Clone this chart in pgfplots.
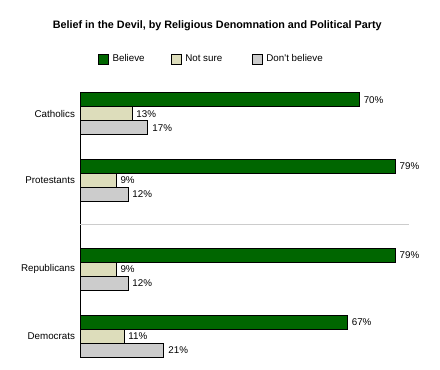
\documentclass[border=0pt]{standalone}
\usepackage{pgfplots}
\pgfplotsset{compat=1.18}
\usepackage{fontspec}
\setmainfont{Liberation Sans}
\newfontfamily\plainlib{Liberation Sans}
\definecolor{cgreen}{HTML}{006600}
\definecolor{cbeige}{HTML}{DDDDBB}
\definecolor{cgray}{HTML}{CCCCCC}
\begin{document}
\begin{tikzpicture}[x=1pt,y=1pt]
\path[use as bounding box] (0,0) rectangle (440,370);
\begin{axis}[
  at={(80pt,12pt)}, anchor=south west,
  scale only axis, width=329pt, height=266pt,
  xmin=0, xmax=82.5, ymin=12, ymax=278,
  enlargelimits=false, clip=false,
  axis x line=none, axis y line=left, y axis line style={-, black, line width=0.8pt},
  xbar, bar width=14, bar shift=0pt,
  ytick={33.8,100.7,189.7,256.3},
  yticklabels={Democrats,Republicans,Protestants,Catholics},
  major tick length=0pt,
  yticklabel style={font=\fontsize{9.8}{11}\selectfont, anchor=east, xshift=-1.5pt},
  every axis plot/.append style={draw=black, line width=0.6pt},
  point meta=explicit symbolic,
  nodes near coords,
  nodes near coords style={font=\fontsize{9.8}{11}\selectfont, anchor=west, xshift=1pt, text=black},
  legend columns=3,
  legend image code/.code={\draw[#1, draw=black, line width=0.6pt] (0pt,-5pt) rectangle (10pt,5pt);},
  legend style={at={(axis cs:4.5,311)}, anchor=west, draw=none, inner sep=0pt, outer sep=0pt,
    font=\fontsize{9.8}{11}\selectfont,
    /tikz/column 2/.style={column sep=24.5pt},
    /tikz/column 4/.style={column sep=28pt},
    nodes={inner sep=1.5pt}},
]
\addplot[fill=cgreen] coordinates {(70,270.3)[70\%] (79,203.7)[79\%] (79,114.7)[79\%] (67,47.8)[67\%]};
\addplot[fill=cbeige] coordinates {(13,256.3)[13\%] (9,189.7)[9\%] (9,100.7)[9\%] (11,33.8)[11\%]};
\addplot[fill=cgray] coordinates {(17,242.3)[17\%] (12,175.7)[12\%] (12,86.7)[12\%] (21,19.8)[21\%]};
\legend{\hspace{2.5pt}Believe,\hspace{2.5pt}Not sure,{\hspace{2.5pt}\plainlib Don't believe}}
\draw[cgray, line width=0.8pt] (axis cs:0,146) -- (axis cs:82.5,146);
\node[font=\bfseries\fontsize{10.8}{13}\selectfont] at (axis cs:34.4,344) {Belief in the Devil, by Religious Denomnation and Political Party};
\end{axis}
\end{tikzpicture}
\end{document}
